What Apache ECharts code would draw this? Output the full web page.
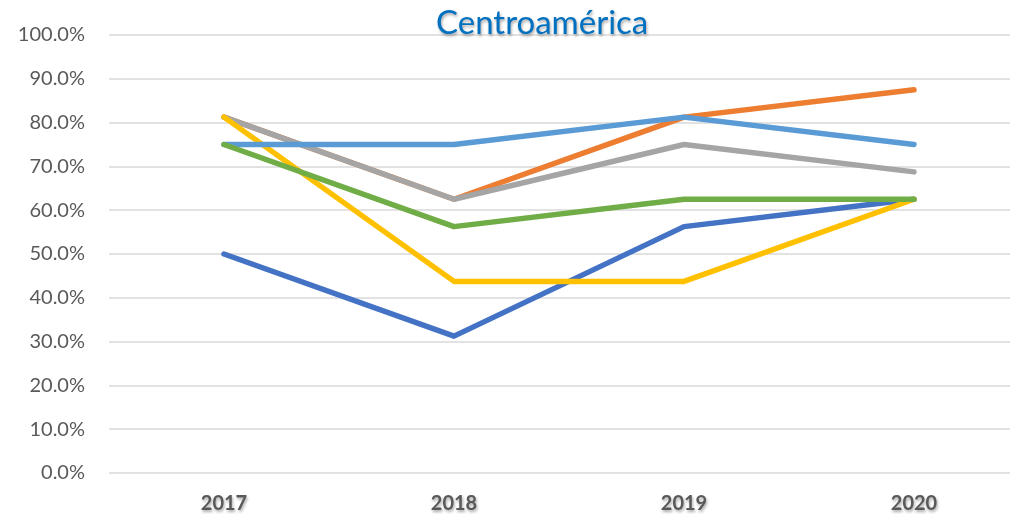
<!DOCTYPE html>
<html>
<head>
<meta charset="utf-8">
<script src="https://cdn.jsdelivr.net/npm/echarts@6/dist/echarts.min.js"></script>
<style>
  html, body { margin: 0; padding: 0; background: #fff; }
  #chart { width: 1010px; height: 514px; }
</style>
</head>
<body>
<div id="chart"></div>
<script>
  const years = ['2017', '2018', '2019', '2020']
  // six series, values in percent
  const serie1 = [50, 31.25, 56.25, 62.5]
  const serie2 = [81.25, 62.5, 81.25, 87.5]
  const serie3 = [81.25, 62.5, 75, 68.75]
  const serie4 = [81.25, 43.75, 43.75, 62.5]
  const serie5 = [75, 75, 81.25, 75]
  const serie6 = [75, 56.25, 62.5, 62.5]
  const colors = ['#4472C4', '#ED7D31', '#A5A5A5', '#FFC000', '#5B9BD5', '#70AD47']

  const chart = echarts.init(document.getElementById('chart'))

  const mkLine = (name, data, i) => ({
    name: name,
    type: 'line',
    data: data,
    symbol: 'none',
    z: 2 + i,
    lineStyle: { width: 5.5, color: colors[i], cap: 'round', join: 'round' },
    itemStyle: { color: colors[i] }
  })

  const option = {
    animation: false,
    title: {
      text: 'Centroamérica',
      left: 431,
      top: 2,
      textStyle: {
        fontFamily: 'Lato',
        fontSize: 33,
        fontWeight: 'normal',
        color: '#0070C0',
        textShadowColor: 'rgba(0,0,0,0.35)',
        textShadowBlur: 3,
        textShadowOffsetX: 1,
        textShadowOffsetY: 2
      }
    },
    grid: { left: 109, top: 35, width: 920, height: 438, outerBoundsMode: 'none' },
    xAxis: {
      type: 'category',
      data: years,
      boundaryGap: true,
      axisLine: { show: false },
      axisTick: { show: false },
      axisLabel: {
        margin: 21,
        fontFamily: 'Lato',
        fontSize: 20,
        fontWeight: 'bold',
        color: '#595959',
        textShadowColor: 'rgba(0,0,0,0.35)',
        textShadowBlur: 3,
        textShadowOffsetX: 1,
        textShadowOffsetY: 2
      }
    },
    yAxis: {
      type: 'value',
      min: 0,
      max: 100,
      interval: 10,
      axisLine: { show: false },
      axisTick: { show: false },
      splitLine: { lineStyle: { color: '#d9d9d9', width: 1.5 } },
      axisLabel: {
        margin: 24,
        fontFamily: 'Lato',
        fontSize: 20,
        color: '#595959',
        formatter: v => v.toFixed(1) + '%'
      }
    },
    series: [
      mkLine('Serie 1', serie1, 0),
      mkLine('Serie 2', serie2, 1),
      mkLine('Serie 3', serie3, 2),
      mkLine('Serie 4', serie4, 3),
      mkLine('Serie 5', serie5, 4),
      mkLine('Serie 6', serie6, 5)
    ]
  }
  chart.setOption(option)
</script>
</body>
</html>
